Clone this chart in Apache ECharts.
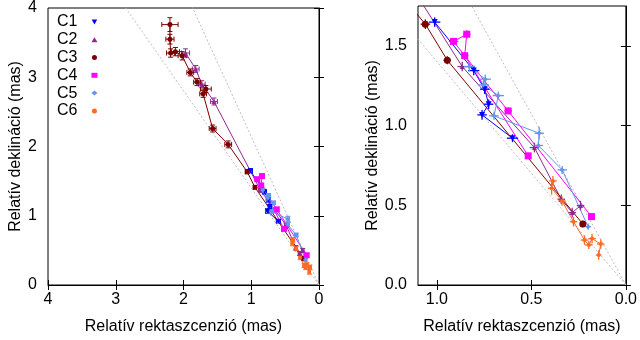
<!DOCTYPE html>
<html>
<head>
<meta charset="utf-8">
<script src="https://cdn.jsdelivr.net/npm/echarts@6/dist/echarts.min.js"></script>
<style>
  html, body { margin: 0; padding: 0; background: #fff; }
  #chart { width: 640px; height: 340px; }
</style>
</head>
<body>
<div id="chart"></div>
<script>
// Component positions relative to the core: [RA, Dec, RA error, Dec error], in mas
const c1 = [[1.012, 1.649, 0.03, 0.03], [0.805, 1.345, 0.03, 0.03], [0.747, 1.228, 0.025, 0.03],
            [0.726, 1.134, 0.025, 0.03], [0.761, 1.067, 0.025, 0.03], [0.600, 0.921, 0.03, 0.025]];
const c2 = [[1.97, 3.35, 0.06, 0.06], [1.82, 3.12, 0.05, 0.05], [1.73, 2.90, 0.05, 0.05], [1.55, 2.65, 0.05, 0.05],
            [0.866, 1.370, 0.025, 0.03], [0.484, 0.862, 0.025, 0.03], [0.342, 0.538, 0.02, 0.03],
            [0.284, 0.454, 0.02, 0.03], [0.240, 0.498, 0.02, 0.03]];
const c3 = [[2.20, 3.76, 0.12, 0.10], [2.20, 3.55, 0.06, 0.07], [2.19, 3.35, 0.06, 0.06], [2.12, 3.37, 0.06, 0.06],
            [2.02, 3.31, 0.06, 0.06], [1.90, 3.07, 0.05, 0.05], [1.80, 2.93, 0.05, 0.05], [1.67, 2.83, 0.08, 0.05],
            [1.71, 2.76, 0.05, 0.05], [1.57, 2.26, 0.05, 0.05], [1.34, 2.03, 0.05, 0.05],
            [1.061, 1.636, 0.025, 0.03], [0.945, 1.410, 0.02, 0.025], [0.228, 0.383, 0.015, 0.02]];
const c4 = [[0.517, 0.810, 0.015, 0.02], [0.853, 1.438, 0.02, 0.02], [0.842, 1.573, 0.02, 0.025],
            [0.912, 1.528, 0.025, 0.02], [0.623, 1.092, 0.02, 0.02], [0.182, 0.429, 0.015, 0.02]];
const c5 = [[0.828, 1.370, 0.03, 0.03], [0.744, 1.291, 0.03, 0.03], [0.754, 1.255, 0.03, 0.03],
            [0.675, 1.188, 0.03, 0.025], [0.698, 1.061, 0.025, 0.025], [0.459, 0.952, 0.025, 0.04],
            [0.463, 0.875, 0.025, 0.025], [0.337, 0.722, 0.025, 0.025], [0.200, 0.366, 0.015, 0.02]];
const c6 = [[0.386, 0.653, 0.02, 0.03], [0.393, 0.607, 0.02, 0.04], [0.338, 0.527, 0.02, 0.03],
            [0.277, 0.397, 0.02, 0.03], [0.219, 0.282, 0.02, 0.03], [0.196, 0.251, 0.02, 0.025],
            [0.179, 0.291, 0.02, 0.03], [0.133, 0.257, 0.02, 0.03], [0.144, 0.188, 0.015, 0.03]];

const componentNames = ['C1', 'C2', 'C3', 'C4', 'C5', 'C6'];
const componentData = [c1, c2, c3, c4, c5, c6];

// Position angles (deg, east of north) of the dotted cone edges through the core
const coneEdgePA = [25, 35.5];

// Axis ticks
const leftXTicks = [0, 1, 2, 3, 4];
const leftYTicks = [0, 1, 2, 3, 4];
const rightXTicks = [0, 0.5, 1.0];
const rightYTicks = [0, 0.5, 1.0, 1.5];

const colors = ['#0000ff', '#8e2a8e', '#7a0000', '#ff00ff', '#6495ed', '#ff6a22'];
const symbols = ['path://M0,0L10,0L5,9Z', 'triangle', 'circle', 'rect', 'diamond', 'circle'];
const FONT = 'Liberation Sans, Arial, sans-serif';

const panels = [
  { grid: { left: 48, right: 321, top: 6, bottom: 55 }, xMax: 4, yMax: 4,
    xTicks: leftXTicks, yTicks: leftYTicks, dec: 0, yNameGap: 24, cap: 2.5,
    sizes: [5, 5, 5, 6, 5, 4], lw: 1 },
  { grid: { left: 418, right: 13, top: 6, bottom: 55 }, xMax: 1.1, yMax: 1.75,
    xTicks: rightXTicks, yTicks: rightYTicks, dec: 1, yNameGap: 37, cap: 0,
    sizes: [6, 5, 7, 7, 5, 4], lw: 1.3 }
];

const grids = [], xAxes = [], yAxes = [], series = [];
const tickStyle = { show: true, inside: true, length: 5, lineStyle: { color: '#000', width: 1 } };

panels.forEach((p, i) => {
  grids.push(Object.assign({ show: true, borderColor: '#000', borderWidth: 1, backgroundColor: 'transparent' }, p.grid));
  const fmt = v => (+v).toFixed(p.dec);
  // bottom / left axes carry labels; top / right ones only mirror the ticks
  xAxes.push({
    type: 'value', gridIndex: i, min: 0, max: p.xMax, inverse: true, position: 'bottom',
    name: 'Relatív rektaszcenzió (mas)', nameLocation: 'middle', nameGap: 34,
    nameTextStyle: { fontFamily: FONT, fontSize: 16, color: '#000' },
    axisLine: { show: true, lineStyle: { color: '#000' } }, splitLine: { show: false },
    axisTick: Object.assign({ customValues: p.xTicks }, tickStyle),
    axisLabel: { customValues: p.xTicks, formatter: fmt, margin: 7, fontFamily: FONT, fontSize: 16, color: '#000' }
  });
  xAxes.push({
    type: 'value', gridIndex: i, min: 0, max: p.xMax, inverse: true, position: 'top',
    axisLine: { show: false }, splitLine: { show: false }, axisLabel: { show: false },
    axisTick: Object.assign({ customValues: p.xTicks }, tickStyle)
  });
  yAxes.push({
    type: 'value', gridIndex: i, min: 0, max: p.yMax, position: 'left',
    name: 'Relatív deklináció (mas)', nameLocation: 'middle', nameGap: p.yNameGap, nameRotate: 90,
    nameTextStyle: { fontFamily: FONT, fontSize: 16, color: '#000' },
    axisLine: { show: true, lineStyle: { color: '#000' } }, splitLine: { show: false },
    axisTick: Object.assign({ customValues: p.yTicks }, tickStyle),
    axisLabel: { customValues: p.yTicks, formatter: fmt, margin: 11, fontFamily: FONT, fontSize: 16, color: '#000' }
  });
  yAxes.push({
    type: 'value', gridIndex: i, min: 0, max: p.yMax, position: 'right',
    axisLine: { show: false }, splitLine: { show: false }, axisLabel: { show: false },
    axisTick: Object.assign({ customValues: p.yTicks }, tickStyle)
  });

  const xi = i * 2, yi = i * 2;

  // dotted cone edges from the core
  coneEdgePA.forEach(pa => {
    const r = 6, a = pa * Math.PI / 180;
    series.push({
      type: 'line', xAxisIndex: xi, yAxisIndex: yi, silent: true, symbol: 'none', z: 1,
      data: [[0, 0], [r * Math.sin(a), r * Math.cos(a)]],
      lineStyle: { color: '#bdbdbd', width: 1, type: [2, 2] }, clip: true
    });
  });

  componentData.forEach((pts, k) => {
    const col = colors[k];
    // connecting track
    series.push({
      type: 'line', xAxisIndex: xi, yAxisIndex: yi, silent: true, symbol: 'none', z: 2, clip: true,
      data: pts.map(d => [d[0], d[1]]), lineStyle: { color: col, width: 1 }
    });
    // error bars
    series.push({
      type: 'custom', xAxisIndex: xi, yAxisIndex: yi, silent: true, z: 3, clip: true,
      itemStyle: { color: col }, encode: { x: 0, y: 1 }, data: pts,
      renderItem: (params, api) => {
        const x = api.value(0), y = api.value(1), ex = api.value(2), ey = api.value(3);
        const l = api.coord([x - ex, y]), r = api.coord([x + ex, y]);
        const b = api.coord([x, y - ey]), t = api.coord([x, y + ey]);
        const style = { stroke: col, lineWidth: p.lw };
        const children = [
          { type: 'line', shape: { x1: l[0], y1: l[1], x2: r[0], y2: r[1] }, style },
          { type: 'line', shape: { x1: b[0], y1: b[1], x2: t[0], y2: t[1] }, style }
        ];
        if (p.cap) {
          const c = p.cap;
          children.push(
            { type: 'line', shape: { x1: l[0], y1: l[1] - c, x2: l[0], y2: l[1] + c }, style },
            { type: 'line', shape: { x1: r[0], y1: r[1] - c, x2: r[0], y2: r[1] + c }, style },
            { type: 'line', shape: { x1: b[0] - c, y1: b[1], x2: b[0] + c, y2: b[1] }, style },
            { type: 'line', shape: { x1: t[0] - c, y1: t[1], x2: t[0] + c, y2: t[1] }, style }
          );
        }
        return { type: 'group', children };
      }
    });
    // markers
    series.push({
      type: 'scatter', name: componentNames[k], xAxisIndex: xi, yAxisIndex: yi, z: 4, clip: true,
      symbol: symbols[k], symbolSize: p.sizes[k],
      itemStyle: { color: col, opacity: 1 }, data: pts.map(d => [d[0], d[1]])
    });
  });
});

const chart = echarts.init(document.getElementById('chart'), null, { renderer: 'canvas' });
chart.setOption({
  animation: false,
  backgroundColor: '#fff',
  grid: grids, xAxis: xAxes, yAxis: yAxes, series: series,
  legend: {
    orient: 'vertical', left: 57, top: 13, align: 'right', selectedMode: false,
    itemWidth: 6, itemHeight: 5, itemGap: 0, padding: 0,
    data: componentNames.map((n, k) => ({ name: n, itemStyle: { color: colors[k] } })),
    textStyle: { fontFamily: FONT, fontSize: 16, color: '#000', lineHeight: 17.8, padding: [0, 9, 0, 0] }
  }
});
</script>
</body>
</html>
